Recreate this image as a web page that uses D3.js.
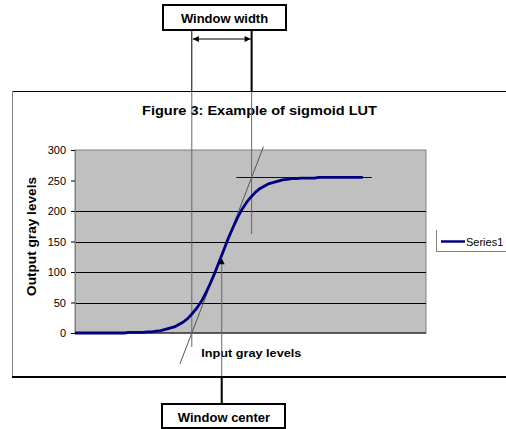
<!DOCTYPE html>
<html>
<head>
<meta charset="utf-8">
<script src="https://cdn.jsdelivr.net/npm/d3@7"></script>
<style>
  html, body { margin: 0; padding: 0; background: #fff; }
  svg { display: block; }
  text { font-family: "Liberation Sans", Arial, sans-serif; }
</style>
</head>
<body>
<svg id="chart" width="506" height="429"></svg>
<script>
// Sigmoid look-up table: input gray level -> output gray level
const inputLevels = [0, 4, 8, 12, 16, 20, 24, 28, 32, 36, 40, 44, 48, 52, 56, 60, 64, 68, 72, 76,
  80, 84, 88, 92, 96, 100, 104, 108, 112, 116, 120, 124, 128, 132, 136, 140, 144, 148, 152, 156,
  160, 164, 168, 172, 176, 180, 184, 188, 192, 196, 200, 204, 208, 212, 216, 220, 224, 228, 232,
  236, 240, 244, 248, 252, 255];
const outputLevels = [0, 0, 0, 0, 0, 0, 0, 0, 0, 0, 0, 0, 1, 1, 1, 1, 2, 2, 3, 4,
  6, 8, 10, 14, 18, 24, 32, 41, 52, 66, 82, 99, 118, 137, 156, 173, 189, 203, 214, 223,
  231, 237, 241, 245, 247, 249, 251, 252, 253, 253, 254, 254, 254, 254, 255, 255, 255, 255, 255,
  255, 255, 255, 255, 255, 255];
const yTicks = [0, 50, 100, 150, 200, 250, 300];
const gridValues = [50, 100, 150, 200];
const windowCenter = 130;
const windowWidth = 53;
const maxOutput = 255;
const seriesName = "Series1";
const chartTitle = "Figure 3: Example of sigmoid LUT";
const xTitle = "Input gray levels";
const yTitle = "Output gray levels";

const svg = d3.select("#chart");
const plot = { left: 75, right: 426, top: 150, bottom: 333 };

const x = d3.scaleLinear().domain([0, 311]).range([plot.left, plot.right]);
const y = d3.scaleLinear().domain([0, 300]).range([plot.bottom, plot.top]);

// arrow marker
const defs = svg.append("defs");
defs.append("marker").attr("id", "arrow")
  .attr("viewBox", "0 0 10 10").attr("refX", 10).attr("refY", 5)
  .attr("markerWidth", 7).attr("markerHeight", 6).attr("markerUnits", "userSpaceOnUse")
  .attr("orient", "auto-start-reverse")
  .append("path").attr("d", "M0,0 L10,5 L0,10 Z").attr("fill", "#000");

// chart frame
svg.append("line").attr("x1", 12).attr("x2", 506).attr("y1", 91.5).attr("y2", 91.5)
  .attr("stroke", "#000").attr("stroke-width", 1);
svg.append("line").attr("x1", 12.5).attr("x2", 12.5).attr("y1", 91).attr("y2", 377)
  .attr("stroke", "#808080").attr("stroke-width", 1);
svg.append("line").attr("x1", 12).attr("x2", 506).attr("y1", 377).attr("y2", 377)
  .attr("stroke", "#000").attr("stroke-width", 2);

// plot area
svg.append("rect").attr("x", plot.left).attr("y", plot.top)
  .attr("width", plot.right - plot.left).attr("height", plot.bottom - plot.top)
  .attr("fill", "#c0c0c0").attr("stroke", "#808080").attr("stroke-width", 1);

svg.append("g").selectAll("line").data(gridValues).join("line")
  .attr("x1", plot.left).attr("x2", plot.right)
  .attr("y1", d => Math.round(y(d)) + 0.5).attr("y2", d => Math.round(y(d)) + 0.5)
  .attr("stroke", "#000").attr("stroke-width", 1);

// y axis
const yAxis = svg.append("g").attr("transform", `translate(${plot.left},0)`)
  .call(d3.axisLeft(y).tickValues(yTicks).tickSize(4).tickPadding(5).tickFormat(d3.format("d")));
yAxis.select(".domain").attr("stroke", "#808080");
yAxis.selectAll(".tick line").attr("stroke", "#000");
yAxis.selectAll(".tick text").attr("font-size", 11).attr("fill", "#000")
  .attr("font-family", "'Liberation Sans', Arial, sans-serif");

// x axis line
svg.append("line").attr("x1", plot.left).attr("x2", plot.right)
  .attr("y1", plot.bottom).attr("y2", plot.bottom).attr("stroke", "#000");

// titles
svg.append("text").attr("x", 259.5).attr("y", 114.5).attr("text-anchor", "middle")
  .attr("font-size", 12).attr("font-weight", "bold")
  .attr("textLength", 235).attr("lengthAdjust", "spacingAndGlyphs").text(chartTitle);
svg.append("text").attr("transform", "translate(36,236.5) rotate(-90)").attr("text-anchor", "middle")
  .attr("font-size", 12).attr("font-weight", "bold")
  .attr("textLength", 119).attr("lengthAdjust", "spacingAndGlyphs").text(yTitle);
svg.append("text").attr("x", 251.3).attr("y", 356.5).attr("text-anchor", "middle")
  .attr("font-size", 11).attr("font-weight", "bold")
  .attr("textLength", 100).attr("lengthAdjust", "spacingAndGlyphs").text(xTitle);

// window annotations (behind the curve)
const wLeft = windowCenter - windowWidth / 2;
const wRight = windowCenter + windowWidth / 2;
const slope = maxOutput / windowWidth;
const tangentAt = v => maxOutput / 2 + slope * (v - windowCenter);

const ann = svg.append("g");
// tangent through the window center
ann.append("line")
  .attr("x1", x(93)).attr("y1", y(tangentAt(93)))
  .attr("x2", x(167)).attr("y2", y(tangentAt(167)))
  .attr("stroke", "#555").attr("stroke-width", 1);
// saturation level
ann.append("line").attr("x1", x(143)).attr("x2", x(263))
  .attr("y1", Math.round(y(maxOutput)) + 0.5).attr("y2", Math.round(y(maxOutput)) + 0.5)
  .attr("stroke", "#111").attr("stroke-width", 1);
// window bounds inside the chart
ann.append("line").attr("x1", x(wLeft)).attr("x2", x(wLeft))
  .attr("y1", 92).attr("y2", y(-23)).attr("stroke", "#666").attr("stroke-width", 1);
ann.append("line").attr("x1", x(wRight)).attr("x2", x(wRight))
  .attr("y1", 92).attr("y2", y(162)).attr("stroke", "#666").attr("stroke-width", 1);

// curve
const pts = inputLevels.map((v, i) => [v, outputLevels[i]]);
svg.append("path").datum(pts)
  .attr("d", d3.line().x(d => x(d[0])).y(d => y(d[1])))
  .attr("fill", "none").attr("stroke", "#000080").attr("stroke-width", 2.8)
  .attr("stroke-linejoin", "round");

// window center pointer, drawn over the curve
svg.append("line").attr("x1", x(windowCenter)).attr("x2", x(windowCenter))
  .attr("y1", 376).attr("y2", y(maxOutput / 2) + 3).attr("stroke", "#666").attr("stroke-width", 1)
  .attr("marker-end", "url(#arrow)");

// legend
const lg = svg.append("g");
lg.append("line").attr("x1", 436.5).attr("x2", 436.5).attr("y1", 230).attr("y2", 251)
  .attr("stroke", "#808080");
lg.append("line").attr("x1", 436).attr("x2", 506).attr("y1", 251.5).attr("y2", 251.5)
  .attr("stroke", "#808080");
lg.append("line").attr("x1", 441).attr("x2", 465).attr("y1", 241.5).attr("y2", 241.5)
  .attr("stroke", "#000080").attr("stroke-width", 2.5);
lg.append("text").attr("x", 466).attr("y", 245.5).attr("font-size", 11).text(seriesName);

// "Window width" callout above the chart
svg.append("rect").attr("x", 163).attr("y", 5).attr("width", 123).attr("height", 25)
  .attr("fill", "#fff").attr("stroke", "#000").attr("stroke-width", 2);
svg.append("text").attr("x", 224.5).attr("y", 22.5).attr("text-anchor", "middle")
  .attr("font-size", 13).attr("font-weight", "bold").text("Window width");
svg.append("line").attr("x1", x(wLeft)).attr("x2", x(wLeft)).attr("y1", 31).attr("y2", 91)
  .attr("stroke", "#000").attr("stroke-width", 1);
svg.append("line").attr("x1", x(wRight)).attr("x2", x(wRight)).attr("y1", 31).attr("y2", 91)
  .attr("stroke", "#000").attr("stroke-width", 2);
svg.append("line").attr("x1", x(wLeft) + 1).attr("x2", x(wRight) - 1).attr("y1", 39).attr("y2", 39)
  .attr("stroke", "#000").attr("stroke-width", 1)
  .attr("marker-start", "url(#arrow)").attr("marker-end", "url(#arrow)");

// "Window center" callout below the chart
svg.append("line").attr("x1", x(windowCenter)).attr("x2", x(windowCenter)).attr("y1", 378).attr("y2", 404)
  .attr("stroke", "#000").attr("stroke-width", 2);
svg.append("rect").attr("x", 162).attr("y", 404).attr("width", 123).attr("height", 24)
  .attr("fill", "#fff").attr("stroke", "#000").attr("stroke-width", 2);
svg.append("text").attr("x", 224).attr("y", 421.5).attr("text-anchor", "middle")
  .attr("font-size", 13).attr("font-weight", "bold").text("Window center");
</script>
</body>
</html>
